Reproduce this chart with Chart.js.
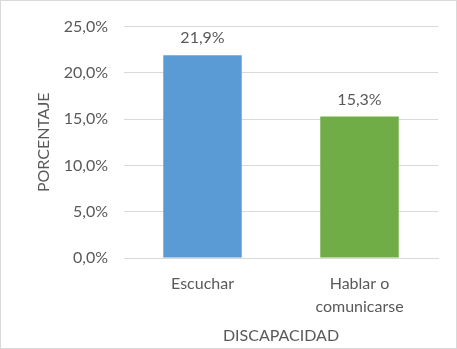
<!DOCTYPE html>
<html>
<head>
<meta charset="utf-8">
<script src="https://cdn.jsdelivr.net/npm/chart.js@4"></script>
<style>
  html, body { margin: 0; padding: 0; background: #fff; }
  #wrap {
    position: relative;
    width: 457px;
    height: 349px;
    box-sizing: border-box;
    border: 1px solid #d9d9d9;
  }
  #chart { display: block; }
</style>
</head>
<body>
<div id="wrap"><canvas id="chart" width="455" height="347"></canvas></div>
<script>
// ---------------- Data ----------------
const categories = ["Escuchar", ["Hablar o", "comunicarse"]];
const values = [21.9, 15.3];
const barColors = ["#5B9BD5", "#70AD47"];
const yTicks = [0, 5, 10, 15, 20, 25];
const yTitle = "PORCENTAJE";
const xTitle = "DISCAPACIDAD";

const FONT = "Lato, 'Open Sans', sans-serif";
const TEXT = "#595959";

const fmt = (v) => v.toFixed(1).replace(".", ",") + "%";

// data labels above bars + y axis title (fixed offset from plot area)
const extraText = {
  id: "extraText",
  afterDraw(chart) {
    const ctx = chart.ctx;
    const meta = chart.getDatasetMeta(0);
    const area = chart.chartArea;
    ctx.save();
    ctx.font = "16px " + FONT;
    ctx.fillStyle = TEXT;
    ctx.textAlign = "center";
    ctx.textBaseline = "middle";
    meta.data.forEach((bar, i) => {
      ctx.fillText(fmt(values[i]), bar.x, bar.y - 17);
    });
    ctx.translate(area.left - 80, (area.top + area.bottom) / 2);
    ctx.rotate(-Math.PI / 2);
    ctx.fillText(yTitle, 0, 0);
    ctx.restore();
  },
};

new Chart(document.getElementById("chart"), {
  type: "bar",
  data: {
    labels: categories,
    datasets: [
      {
        data: values,
        backgroundColor: barColors,
        barPercentage: 0.5,
        categoryPercentage: 1,
      },
    ],
  },
  options: {
    responsive: false,
    animation: false,
    layout: { padding: { left: 19, right: 18, top: 20, bottom: 3 } },
    plugins: { legend: { display: false }, tooltip: { enabled: false } },
    scales: {
      x: {
        grid: { display: false },
        border: { display: true, color: "#d9d9d9" },
        ticks: {
          color: TEXT,
          font: { family: FONT, size: 16, lineHeight: 1.45 },
          padding: 6,
          maxRotation: 0,
        },
        title: {
          display: true,
          text: xTitle,
          color: TEXT,
          font: { family: FONT, size: 16 },
          padding: { top: 0, bottom: 0 },
        },
        afterFit: (s) => { s.height = 87; },
      },
      y: {
        min: 0,
        max: 25,
        afterBuildTicks: (s) => { s.ticks = yTicks.map((v) => ({ value: v })); },
        grid: { color: "#d9d9d9", drawTicks: false },
        border: { display: false },
        ticks: {
          color: TEXT,
          font: { family: FONT, size: 16 },
          padding: 16,
          callback: (v) => fmt(v),
        },
        afterFit: (s) => { s.width = 104; },
      },
    },
  },
  plugins: [extraText],
});
</script>
</body>
</html>
